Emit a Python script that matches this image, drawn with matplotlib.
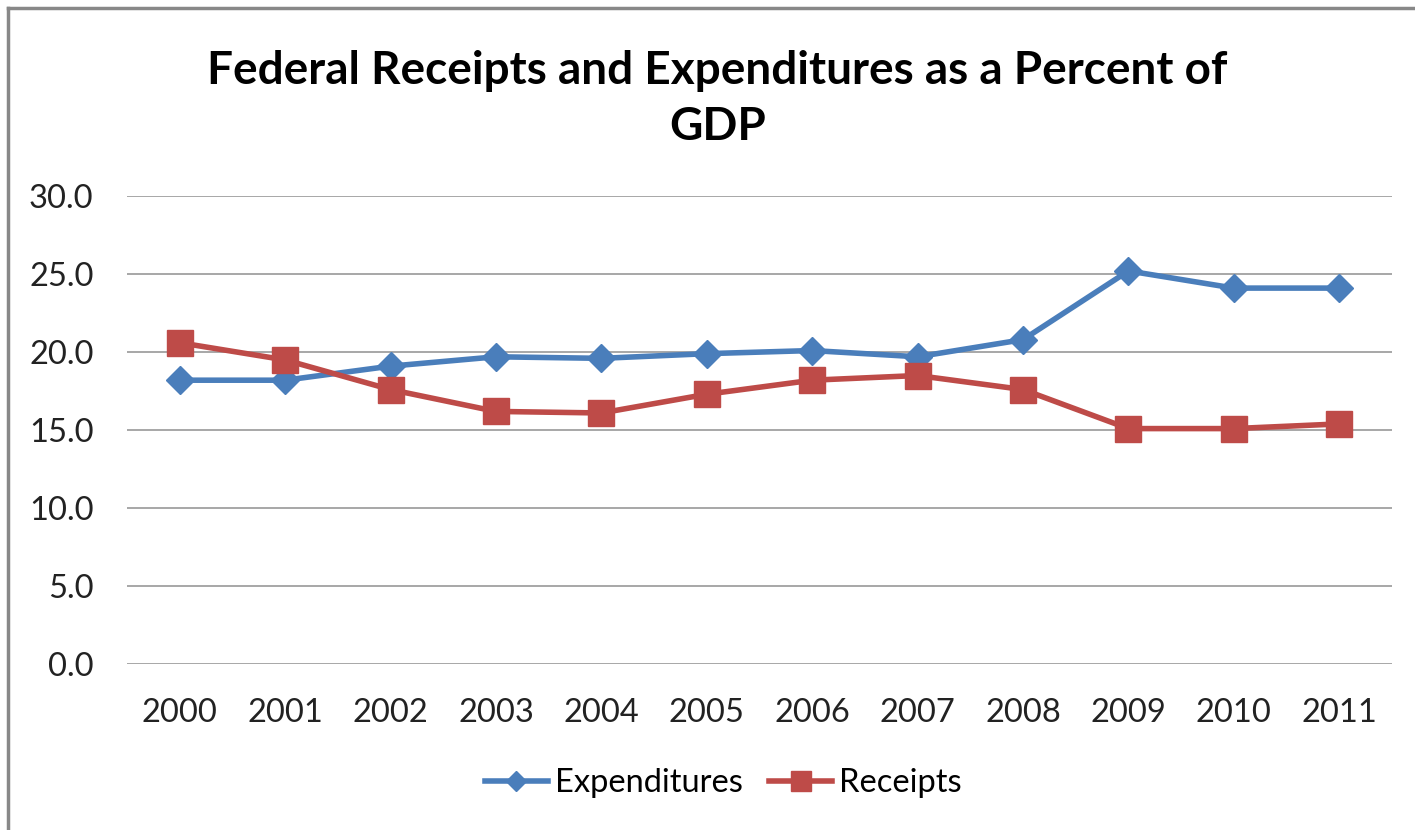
import matplotlib
matplotlib.use("Agg")
import matplotlib.pyplot as plt
from matplotlib.lines import Line2D

years = ["2000", "2001", "2002", "2003", "2004", "2005", "2006", "2007", "2008", "2009", "2010", "2011"]
expenditures = [18.2, 18.2, 19.1, 19.7, 19.6, 19.9, 20.1, 19.7, 20.8, 25.2, 24.1, 24.1]
receipts = [20.6, 19.5, 17.6, 16.2, 16.1, 17.3, 18.2, 18.5, 17.6, 15.1, 15.1, 15.4]
yticks = [0, 5, 10, 15, 20, 25, 30]
title = "Federal Receipts and Expenditures as a Percent of\nGDP"

plt.rcParams['font.family'] = ['Lato', 'DejaVu Sans']

fig = plt.figure(figsize=(14.15, 8.3), dpi=100)
ax = fig.add_axes([127/1415, 1-664.3/830, (1392-127)/1415, (664.3-196)/830])

x = list(range(len(years)))
blue = "#4A7EBB"
red = "#BE4B48"
ax.plot(x, expenditures, color=blue, lw=4, marker="D", ms=14, label="Expenditures", zorder=3)
ax.plot(x, receipts, color=red, lw=4, marker="s", ms=19, label="Receipts", zorder=3)

ax.set_xlim(-0.5, len(years)-0.5)
ax.set_ylim(0, 30)
ax.set_yticks(yticks)
ax.set_yticklabels([f"{v:.1f}" for v in yticks])
ax.set_xticks(x)
ax.set_xticklabels(years)
ax.yaxis.grid(True, color="#A0A0A0", lw=1.3)
ax.set_axisbelow(True)
for s in ax.spines.values():
    s.set_visible(False)
ax.tick_params(axis="both", length=0, labelsize=23.5, colors="#222222")
ax.tick_params(axis="y", pad=24)
ax.tick_params(axis="x", pad=24)

fig.text(0.507, 0.881, title, ha="center", va="center", fontsize=33, fontweight="bold",
         linespacing=1.4, color="#000000")

leg = ax.legend(loc="center", bbox_to_anchor=(0.511, 1-783/830), bbox_transform=fig.transFigure,
                ncol=2, frameon=False, fontsize=23.5, handlelength=1.95, columnspacing=0.8,
                handletextpad=0.2, markerscale=0.75)

fig.add_artist(Line2D([8/1415, 8/1415], [0, 1-8/830], color="#888888", lw=2.5, transform=fig.transFigure))
fig.add_artist(Line2D([8/1415, 1], [1-8/830, 1-8/830], color="#888888", lw=2.5, transform=fig.transFigure))

fig.savefig("out.png", dpi=100, facecolor="white")
